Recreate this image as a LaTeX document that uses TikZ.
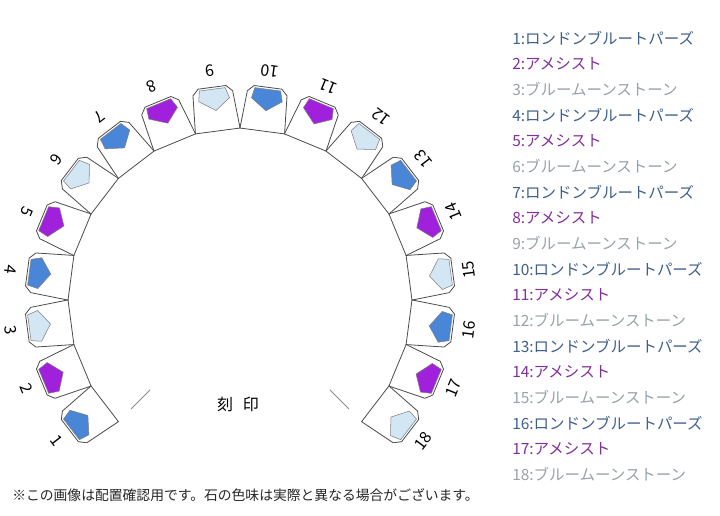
\documentclass[tikz,border=0pt]{standalone}
\usepackage{fontspec}
\setmainfont{Noto Sans CJK JP}
\definecolor{gem0}{HTML}{4A86D8}
\definecolor{gem1}{HTML}{A020DC}
\definecolor{gem2}{HTML}{D2E6F4}
\definecolor{txt0}{HTML}{3F5F8C}
\definecolor{txt1}{HTML}{80309A}
\definecolor{txt2}{HTML}{98A2A8}
\tikzset{
  ring/cell/.style={draw=black!70,line width=0.6pt,fill=white},
  ring/gem/.style={draw=black!50,line width=0.4pt},
  ring/num/.style={font=\fontsize{12}{12}\selectfont,inner sep=0pt},
  ring/tick/.style={draw=black!45,line width=0.6pt},
  legend/.style={anchor=west,inner sep=0pt,font=\fontsize{11.6}{11.6}\selectfont},
}
\begin{document}
\begin{tikzpicture}[x=0.75pt,y=0.75pt]
\useasboundingbox (0,0) rectangle (720,515);
\coordinate (ring-c) at (240,215);
\foreach \i in {1,...,18}{
  \pgfmathsetmacro\ang{232.5-15*\i}
  \pgfmathtruncatemacro\k{mod(\i-1,3)}
  \begin{scope}[shift={(ring-c)},rotate=\ang-90]
    \draw[ring/cell] (-22.5,170.5) -- (22.5,170.5) -- (20,208.5) -- (14,214.5)
      -- (-14,214.5) -- (-20,208.5) -- cycle;
    \draw[ring/gem,fill=gem\k] (-13,212.5) -- (13,212.5) -- (16,202) -- (1,191)
      -- (-15,202) -- cycle;
  \end{scope}
  \node[ring/num,rotate=\ang+90] (num-\i) at ([shift={(\ang:231)}]ring-c) {\i};
  \node[legend,text=txt\k] (key-\i) at (512,{477-25.65*(\i-1)})
    {\i:\ifcase\k ロンドンブルートパーズ\or アメシスト\or ブルームーンストーン\fi};
}
\draw[ring/tick] ([shift={(225:127)}]ring-c) -- ([shift={(225:154)}]ring-c);
\draw[ring/tick] ([shift={(315:127)}]ring-c) -- ([shift={(315:154)}]ring-c);
\node[font=\fontsize{12}{12}\selectfont] (stamp) at (238,111) {刻\hspace{0.6em}印};
\node[anchor=west,inner sep=0pt,text=black!85,font=\fontsize{10.35}{10.35}\selectfont]
  (note) at (12,20) {※この画像は配置確認用です。石の色味は実際と異なる場合がございます。};
\end{tikzpicture}
\end{document}
